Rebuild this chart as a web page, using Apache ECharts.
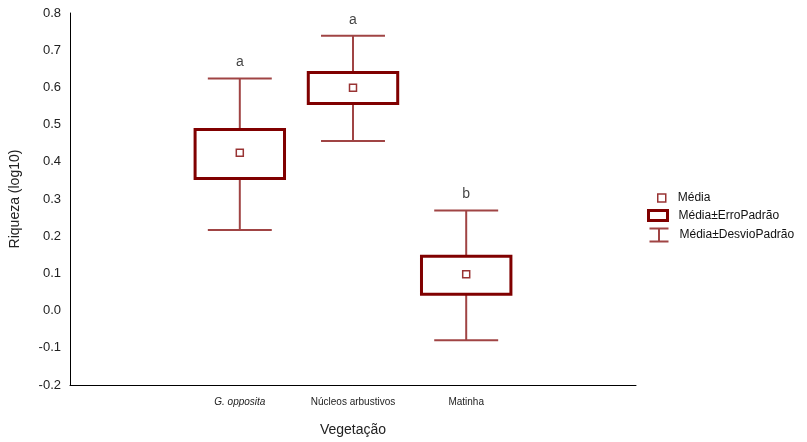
<!DOCTYPE html>
<html>
<head>
<meta charset="utf-8">
<script src="https://cdn.jsdelivr.net/npm/echarts@6/dist/echarts.min.js"></script>
<style>
  html, body { margin: 0; padding: 0; background: #fff; }
  #chart { width: 807px; height: 442px; }
</style>
</head>
<body>
<div id="chart"></div>
<script>
// data
const categories = ['', 'G. opposita', 'Núcleos arbustivos', 'Matinha', ''];
const groupIndex = [1, 2, 3];
const means = [0.424, 0.599, 0.098];
const seLow = [0.355, 0.557, 0.044];
const seHigh = [0.487, 0.640, 0.146];
const sdLow = [0.217, 0.456, -0.080];
const sdHigh = [0.624, 0.739, 0.269];
const letters = ['a', 'a', 'b'];

const FONT = '"Liberation Sans", Arial, sans-serif';
const BOX_COLOR = '#800000';
const WHISKER_COLOR = '#a04444';

const boxData = groupIndex.map((x, i) => [x, seLow[i], seHigh[i]]);
const whiskerData = groupIndex.map((x, i) => [x, sdLow[i], seLow[i], seHigh[i], sdHigh[i]]);
const meanData = groupIndex.map((x, i) => [x, means[i]]);
const letterData = groupIndex.map((x, i) => [x, sdHigh[i]]);

const renderBox = (params, api) => {
    const x = api.value(0);
    const top = api.coord([x, api.value(2)]);
    const bottom = api.coord([x, api.value(1)]);
    const w = api.size([1, 0])[0] * 0.79;
    return {
        type: 'rect',
        shape: {x: top[0] - w / 2, y: top[1], width: w, height: bottom[1] - top[1]},
        style: {fill: 'none', stroke: BOX_COLOR, lineWidth: 3},
    };
};

const renderWhisker = (params, api) => {
    const x = api.value(0);
    const pLow = api.coord([x, api.value(1)]);
    const pBoxLow = api.coord([x, api.value(2)]);
    const pBoxHigh = api.coord([x, api.value(3)]);
    const pHigh = api.coord([x, api.value(4)]);
    const half = api.size([1, 0])[0] * 0.565 / 2;
    const style = {stroke: WHISKER_COLOR, lineWidth: 2};
    const line = (x1, y1, x2, y2) => ({type: 'line', shape: {x1, y1, x2, y2}, style});
    return {
        type: 'group',
        children: [
            line(pHigh[0], pHigh[1], pBoxHigh[0], pBoxHigh[1]),
            line(pBoxLow[0], pBoxLow[1], pLow[0], pLow[1]),
            line(pHigh[0] - half, pHigh[1], pHigh[0] + half, pHigh[1]),
            line(pLow[0] - half, pLow[1], pLow[0] + half, pLow[1]),
        ],
    };
};

const legendText = {fontFamily: FONT, fontSize: 12, color: '#111'};

const option = {
    animation: false,
    textStyle: {fontFamily: FONT},
    grid: {left: 69, right: 171, top: 13, bottom: 55},
    legend: [
        {
            orient: 'vertical', left: 652, top: 187, itemWidth: 8, itemHeight: 8,
            textStyle: {...legendText, padding: [0, 0, 0, 7]},
            data: [{name: 'Média', icon: 'rect', itemStyle: {color: '#fff', borderColor: BOX_COLOR, borderWidth: 1.5}}],
        },
        {
            orient: 'vertical', left: 642, top: 204, itemWidth: 19, itemHeight: 10,
            textStyle: {...legendText, padding: [0, 0, 0, 6]},
            data: [{name: 'Média±ErroPadrão', icon: 'rect', itemStyle: {color: '#fff', borderColor: BOX_COLOR, borderWidth: 3}}],
        },
        {
            orient: 'vertical', left: 642, top: 221, itemWidth: 19, itemHeight: 13,
            textStyle: {...legendText, padding: [0, 0, 0, 6]},
            data: [{name: 'Média±DesvioPadrão', icon: 'path://M0,0H19M9.5,0V13M0,13H19',
                itemStyle: {color: 'none', borderColor: WHISKER_COLOR, borderWidth: 2}}],
        },
    ],
    xAxis: {
        type: 'category',
        data: categories,
        boundaryGap: true,
        name: 'Vegetação',
        nameLocation: 'middle',
        nameGap: 38,
        nameTextStyle: {fontSize: 14, color: '#222', fontFamily: FONT},
        axisLine: {onZero: false, lineStyle: {color: '#000', width: 1}},
        axisTick: {alignWithLabel: true, inside: true, length: 3, lineStyle: {color: '#000'}},
        axisLabel: {
            interval: 0,
            margin: 12,
            fontSize: 10,
            color: '#222',
            formatter: (v) => v === 'G. opposita' ? '{i|' + v + '}' : v,
            rich: {i: {fontStyle: 'italic', fontSize: 10, color: '#222', fontFamily: FONT}},
        },
        splitLine: {show: false},
    },
    yAxis: {
        type: 'value',
        min: -0.2,
        max: 0.8,
        interval: 0.1,
        name: 'Riqueza (log10)',
        nameLocation: 'middle',
        nameGap: 48,
        nameTextStyle: {fontSize: 14, color: '#222', fontFamily: FONT},
        axisLine: {show: true, lineStyle: {color: '#000', width: 1}},
        axisTick: {show: false},
        axisLabel: {fontSize: 13, color: '#222', margin: 9, formatter: (v) => v.toFixed(1)},
        splitLine: {show: false},
    },
    series: [
        {
            name: 'Média±DesvioPadrão',
            type: 'custom',
            renderItem: renderWhisker,
            encode: {x: 0, y: [1, 4]},
            data: whiskerData,
            silent: true,
        },
        {
            name: 'Média±ErroPadrão',
            type: 'custom',
            renderItem: renderBox,
            encode: {x: 0, y: [1, 2]},
            data: boxData,
            silent: true,
        },
        {
            name: 'Média',
            type: 'scatter',
            symbol: 'rect',
            symbolSize: 7,
            itemStyle: {color: '#fff', borderColor: BOX_COLOR, borderWidth: 1.5},
            data: meanData,
            silent: true,
            z: 5,
        },
        {
            name: 'letras',
            type: 'scatter',
            symbolSize: 0,
            data: letterData,
            silent: true,
            label: {
                show: true,
                position: 'top',
                distance: 9,
                fontSize: 14,
                color: '#111',
                fontFamily: FONT,
                formatter: (p) => letters[p.dataIndex],
            },
        },
    ],
};

const chart = echarts.init(document.getElementById('chart'));
chart.setOption(option);
</script>
</body>
</html>
